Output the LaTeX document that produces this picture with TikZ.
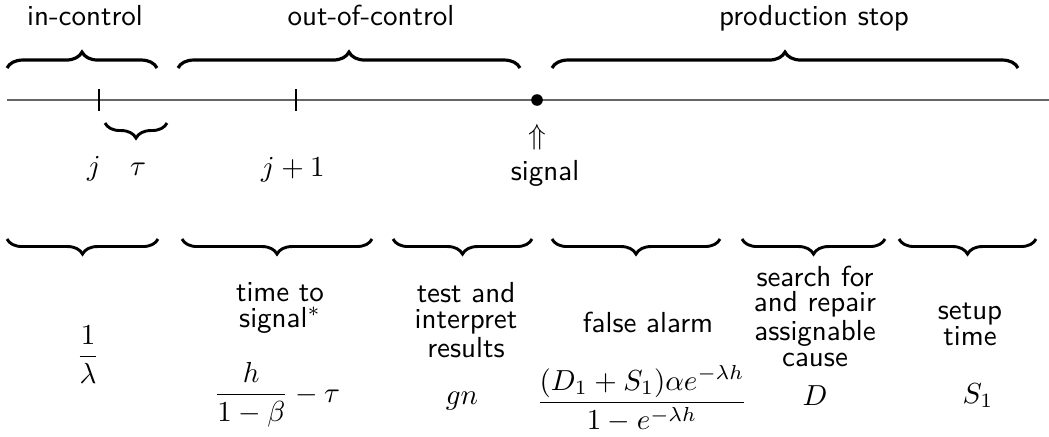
\documentclass[tikz,border=0pt]{standalone}
\usepackage{tikz}
\usetikzlibrary{decorations.pathreplacing}

\begin{document}
\begin{tikzpicture}[x=0.345pt, y=-0.345pt, every node/.style={font=\sffamily, inner sep=0pt},
  brc/.style={decorate, decoration={brace, amplitude=5.5pt}, line width=1.1pt},
  lowbrc/.style={decorate, decoration={brace, mirror, amplitude=5.2pt}, line width=1pt},
  lbl/.style={anchor=base},
  col/.style={anchor=base, align=center, font=\sffamily\fontsize{10}{8.8}\selectfont}]
\useasboundingbox (0,0) rectangle (1049,436);
\coordinate (start) at (7,100);
\coordinate (end) at (1049,100);
\draw[black!60, line width=0.6pt] (start) -- (end);
\draw[line width=0.4pt] (99,89) -- (99,111);
\draw[line width=0.4pt] (296,89) -- (296,111);
\node[circle, fill, minimum size=4pt] (dot) at (537,100) {};
\node[lbl] (inctl) at (85,25) {in-control};
\node[lbl] (outctl) at (371,25) {out-of-control};
\node[lbl] (stop) at (814,25) {production stop};
\draw[brc] (7,68) -- (157,68);
\draw[brc] (178,68) -- (520,68);
\draw[brc] (552,68) -- (1018,68);
\draw[lowbrc] (105,123) -- (167,123);
\node[lbl] (j) at (94,175) {$j$};
\node[lbl] (tau) at (138,175) {$\tau$};
\node[lbl] (jnext) at (293,176) {$j+1$};
\node (arr) at (537,137) {$\Uparrow$};
\node[lbl] (signal) at (545,180) {signal};
\foreach \a/\b in {7/158,182/372,393/532,552/720,742/885,899/1036}
  \draw[lowbrc] (\a,239) -- (\b,239);
\node[lbl] (rate) at (88,364) {$\displaystyle\frac{1}{\lambda}$};
\node[col] (tts) at (280,327) {time to\\signal\smash{$^*$}};
\node[lbl] (ttsval) at (277,402) {$\displaystyle\frac{h}{1-\beta}-\tau$};
\node[col] (test) at (466,357) {test and\\interpret\\results};
\node[lbl] (testval) at (462,404) {$gn$};
\node[col] (alarm) at (648,332) {false alarm};
\node[lbl] (alarmval) at (642,410) {$\displaystyle\frac{(D_1+S_1)\alpha e^{-\lambda h}}{1-e^{-\lambda h}}$};
\node[col] (repair) at (815,366) {search for\\and repair\\assignable\\cause};
\node[lbl] (repairval) at (815,405) {$D$};
\node[col] (setup) at (970,345) {setup\\time};
\node[lbl] (setupval) at (978,403) {$S_1$};
\end{tikzpicture}
\end{document}
